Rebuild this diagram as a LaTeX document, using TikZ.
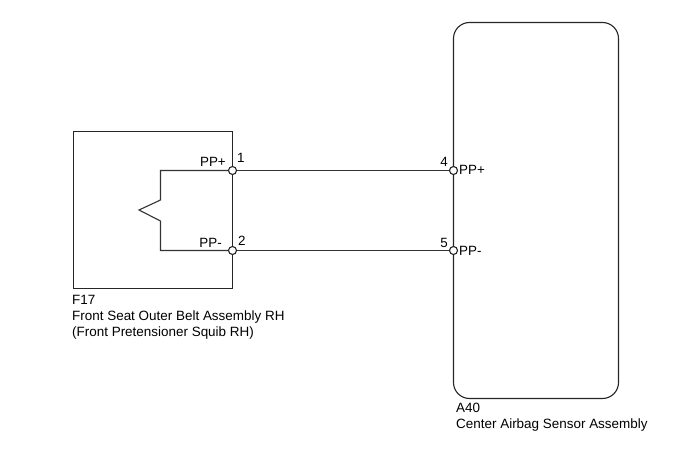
\documentclass[tikz,border=0pt]{standalone}
\usepackage{fontspec}
\setmainfont{Liberation Sans}
\usepackage{tikz}
\usetikzlibrary{calc}
\tikzset{
  wire/.style={line width=1.1pt, black!80},
  pin/.style={circle, draw=black!85, fill=white, line width=1.1pt, inner sep=0pt, minimum size=8pt},
  pinlabel/.style={inner sep=0pt, font=\fontsize{13.4}{15}\selectfont},
  caption/.style={inner sep=0pt, anchor=north west, align=left, font=\fontsize{13.45}{16.2}\selectfont}
}

\begin{document}
\begin{tikzpicture}[x=1pt,y=-1pt]
\useasboundingbox (0,0) rectangle (690,465);

% Left component
\node[draw=black!85, line width=1.1pt, minimum width=159pt, minimum height=157pt, inner sep=0pt] (belt) at (153,210) {};
\node[pin] (pin1) at (232.5,170.5) {};
\node[pin] (pin2) at (232.5,250.5) {};
\coordinate (squibA) at (160.5,170.5);
\coordinate (squibB) at (160.5,200);
\coordinate (squibC) at (139,210);
\coordinate (squibD) at (160.5,221);
\coordinate (squibE) at (160.5,250.5);
\draw[wire] (pin1) -- (squibA) -- (squibB) -- (squibC) -- (squibD) -- (squibE) -- (pin2);
\node[pinlabel, anchor=base east] (ppplusL) at (226,167) {PP+};
\node[pinlabel, anchor=base east] (ppminusL) at (222,247) {PP-};
\node[pinlabel, anchor=base west] (no1) at (237,163) {1};
\node[pinlabel, anchor=base west] (no2) at (238,245) {2};
\node[caption] (beltname) at (72,295) {F17\\Front Seat Outer Belt Assembly RH\\(Front Pretensioner Squib RH)};

% Right component
\node[draw=black!85, line width=1.1pt, rounded corners=16pt, minimum width=165pt, minimum height=376pt, inner sep=0pt] (sensor) at (536,210.5) {};
\node[pin] (pin4) at (453.5,170.5) {};
\node[pin] (pin5) at (453.5,250.5) {};
\node[pinlabel, anchor=base east] (no4) at (448,166.5) {4};
\node[pinlabel, anchor=base east] (no5) at (448,247) {5};
\node[pinlabel, anchor=base west] (ppplusR) at (459,174.5) {PP+};
\node[pinlabel, anchor=base west] (ppminusR) at (459,255) {PP-};
\node[caption] (sensorname) at (456,403) {A40\\Center Airbag Sensor Assembly};

% Wires between the two
\draw[wire] (pin1) -- (pin4);
\draw[wire] (pin2) -- (pin5);
\end{tikzpicture}
\end{document}
